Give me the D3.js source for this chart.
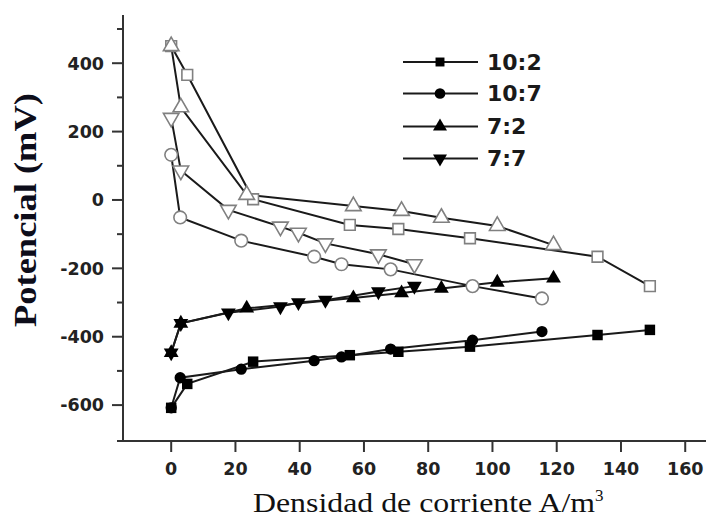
<!DOCTYPE html>
<html><head><meta charset="utf-8">
<script src="https://cdn.jsdelivr.net/npm/d3@7"></script>
<style>body{margin:0;background:#fff}svg{display:block}</style>
</head><body>
<svg id="c" width="709" height="521"></svg>
<script>
// ---- data ----
const seriesNames = ["10:2", "10:7", "7:2", "7:7"];
const x_10_2 = [0, 5, 25.5, 55.6, 70.7, 93, 132.7, 149];
const open_10_2 = [450, 366, 2, -73, -85, -112, -166, -252];
const filled_10_2 = [-608, -538, -473, -454, -444, -429, -395, -380];
const x_10_7 = [0, 2.8, 21.8, 44.5, 53, 68.3, 93.8, 115.4];
const open_10_7 = [132, -51, -119, -166, -188, -203, -252, -288];
const filled_10_7 = [-608, -520, -495, -470, -459, -436, -410, -385];
const x_7_2 = [0, 3, 23.5, 56.7, 71.7, 84.1, 101.5, 119];
const open_7_2 = [450, 271, 15, -18, -32, -52, -76, -132];
const filled_7_2 = [-447, -361, -317, -287, -272, -259, -241, -229];
const x_7_7 = [0, 3, 17.8, 34, 39.6, 48, 64.5, 75.7];
const open_7_7 = [240, 86, -29, -78, -96, -127, -159, -188];
const filled_7_7 = [-447, -361, -330, -312, -300, -293, -268, -252];
const xTicks = [0, 20, 40, 60, 80, 100, 120, 140, 160];
const yTicks = [-600, -400, -200, 0, 200, 400];
const yMinorTicks = [-500, -300, -100, 100, 300, 500];
const xLabel = "Densidad de corriente A/m";
const yLabel = "Potencial (mV)";

const svg = d3.select("#c");
const x = d3.scaleLinear().domain([-15, 166]).range([123, 704.5]);
const y = d3.scaleLinear().domain([-705, 541]).range([441, 15]);

const symTypes = [d3.symbolSquare, d3.symbolCircle, d3.symbolTriangle, d3.symbolTriangle];
const rot = [0, 0, 0, 180];
const openSizes = [115, 125, 105, 105];
const filledSizes = [110, 100, 95, 95];

const series = [
  {xs: x_10_2, open: open_10_2, filled: filled_10_2},
  {xs: x_10_7, open: open_10_7, filled: filled_10_7},
  {xs: x_7_2, open: open_7_2, filled: filled_7_2},
  {xs: x_7_7, open: open_7_7, filled: filled_7_7}
];

// axes
const ax = svg.append("g");
ax.append("line").attr("x1", 117).attr("x2", 706).attr("y1", 441).attr("y2", 441)
  .attr("stroke", "#333").attr("stroke-width", 2);
ax.append("line").attr("x1", 123).attr("x2", 123).attr("y1", 15).attr("y2", 441)
  .attr("stroke", "#333").attr("stroke-width", 2);
xTicks.forEach(t => {
  ax.append("line").attr("x1", x(t)).attr("x2", x(t)).attr("y1", 441).attr("y2", 452)
    .attr("stroke", "#333").attr("stroke-width", 2);
  ax.append("text").attr("x", x(t)).attr("y", 475).attr("text-anchor", "middle")
    .attr("font-family", "DejaVu Sans").attr("font-weight", "bold").attr("font-size", 17.5)
    .attr("fill", "#222").text(t);
});
yTicks.forEach(t => {
  ax.append("line").attr("x1", 112).attr("x2", 123).attr("y1", y(t)).attr("y2", y(t))
    .attr("stroke", "#333").attr("stroke-width", 2);
  ax.append("text").attr("x", 104).attr("y", y(t)).attr("dy", "0.36em").attr("text-anchor", "end")
    .attr("font-family", "DejaVu Sans").attr("font-weight", "bold").attr("font-size", 17.5)
    .attr("fill", "#222").text(t);
});
yMinorTicks.forEach(t => {
  ax.append("line").attr("x1", 117).attr("x2", 123).attr("y1", y(t)).attr("y2", y(t))
    .attr("stroke", "#333").attr("stroke-width", 2);
});

// axis labels
const xl = svg.append("text").attr("x", 253).attr("y", 512)
  .attr("font-family", "Liberation Serif").attr("font-size", 28).attr("fill", "#111");
xl.append("tspan").attr("textLength", 342).attr("lengthAdjust", "spacingAndGlyphs").text(xLabel);
xl.append("tspan").attr("dy", -11).attr("font-size", 17).text("3");

svg.append("text").attr("transform", "translate(36,210) rotate(-90)")
  .attr("text-anchor", "middle").attr("font-family", "Liberation Serif").attr("font-weight", "bold")
  .attr("font-size", 32).attr("fill", "#0d0d1a")
  .attr("textLength", 234).attr("lengthAdjust", "spacingAndGlyphs").text(yLabel);

// lines
const line = d3.line().x(d => x(d[0])).y(d => y(d[1]));
const lineG = svg.append("g");
series.forEach(s => {
  ["open", "filled"].forEach(k => {
    const pts = s.xs.map((v, i) => [v, s[k][i]]);
    lineG.append("path").attr("d", line(pts)).attr("fill", "none")
      .attr("stroke", "#1a1a1a").attr("stroke-width", 2);
  });
});

// markers
const mk = svg.append("g");
series.forEach((s, si) => {
  s.xs.forEach((v, i) => {
    mk.append("path")
      .attr("d", d3.symbol().type(symTypes[si]).size(openSizes[si])())
      .attr("transform", `translate(${x(v)},${y(s.open[i])}) rotate(${rot[si]})`)
      .attr("fill", "#fff").attr("stroke", "#808080").attr("stroke-width", 1.6);
  });
});
series.forEach((s, si) => {
  s.xs.forEach((v, i) => {
    mk.append("path")
      .attr("d", d3.symbol().type(symTypes[si]).size(filledSizes[si])())
      .attr("transform", `translate(${x(v)},${y(s.filled[i])}) rotate(${rot[si]})`)
      .attr("fill", "#000");
  });
});

// legend
const legSizes = [80, 90, 85, 85];
const leg = svg.append("g");
const legY = [62, 93.5, 126.5, 158.5];
seriesNames.forEach((n, i) => {
  leg.append("line").attr("x1", 403).attr("x2", 478).attr("y1", legY[i]).attr("y2", legY[i])
    .attr("stroke", "#1a1a1a").attr("stroke-width", 2);
  leg.append("path").attr("d", d3.symbol().type(symTypes[i]).size(legSizes[i])())
    .attr("transform", `translate(440,${legY[i]}) rotate(${rot[i]})`).attr("fill", "#000");
  leg.append("text").attr("x", 487).attr("y", legY[i]).attr("dy", "0.36em")
    .attr("font-family", "DejaVu Sans").attr("font-weight", "bold").attr("font-size", 22)
    .attr("fill", "#1a1a1a").text(n);
});
</script>
</body></html>
